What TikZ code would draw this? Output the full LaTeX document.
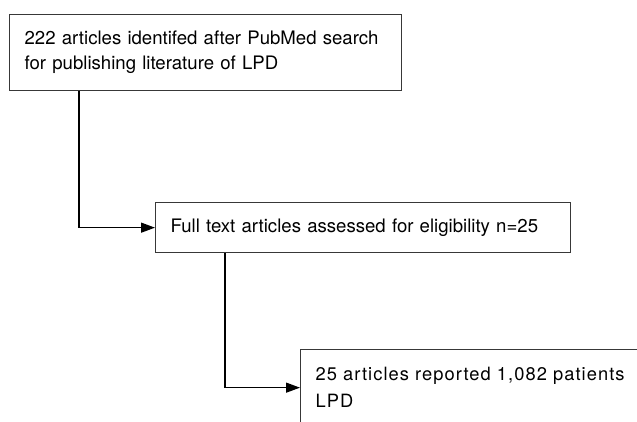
\documentclass[tikz,border=0pt]{standalone}
\usepackage{fontspec}
\setmainfont{TeX Gyre Heros}
\usepackage{tikz}
\usetikzlibrary{positioning,arrows.meta}
\tikzset{
  fbox/.style ={rectangle, draw=black!78, line width=1.3pt, fill=white,
                align=left, anchor=north west, inner xsep=15pt, inner ysep=0pt,
                font=\fontsize{18.6}{25}\selectfont},
  bigbox/.style={fbox, minimum width=392pt, minimum height=76pt, text width=362pt},
  midbox/.style={fbox, minimum width=415pt, minimum height=50pt, text width=385pt},
  widebox/.style={bigbox, font=\fontsize{18.3}{27}\selectfont\addfontfeatures{LetterSpace=5.8}},
  arr/.style  ={-{Triangle[length=14pt,width=10pt]}, line width=1.3pt},
}

\begin{document}
\begin{tikzpicture}[x=1pt,y=-1pt]
  \clip (0,0) rectangle (637,421);
  \fill[white] (0,0) rectangle (637,421);
  % search, full text, included
  \node[bigbox] (search) at (9,14) {222 articles identifed after PubMed search\\for publishing literature of LPD};
  \node[midbox] (fulltext) at (155,202) {Full text articles assessed for eligibility n=25};
  \node[widebox] (included) at (300,349) {25 articles reported 1,082 patients\\LPD};
  % connectors
  \draw[arr] ([xshift=70pt]search.south west) |- (fulltext.west);
  \draw[arr] ([xshift=70pt]fulltext.south west) |- (included.west);
\end{tikzpicture}
\end{document}
